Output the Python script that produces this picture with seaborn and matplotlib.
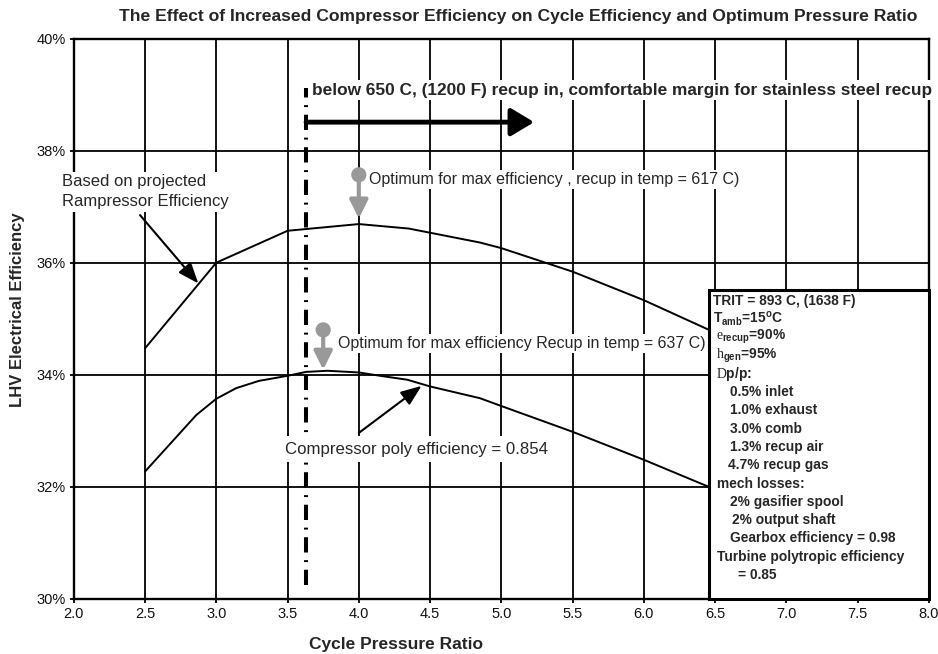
import matplotlib
matplotlib.use("Agg")
import matplotlib.pyplot as plt
from matplotlib.patches import Rectangle
import pandas as pd
import seaborn as sns

# -----------------------------------------
#  Data
# -----------------------------------------

# upper curve: projected Rampressor efficiency
RAMP_PR = [2.5, 3.0, 3.5, 4.0, 4.35, 4.85, 5.0, 5.5, 6.0, 6.5]
RAMP_EFF = [34.47, 36.0, 36.57, 36.69, 36.61, 36.36, 36.26, 35.84, 35.33, 34.75]

# lower curve: compressor poly efficiency = 0.854
POLY_PR = [2.5, 2.86, 3.0, 3.14, 3.3, 3.5, 3.63, 3.78, 4.0, 4.15, 4.34,
           4.5, 4.85, 5.0, 5.5, 6.0, 6.5]
POLY_EFF = [32.27, 33.28, 33.57, 33.76, 33.89, 33.98, 34.05, 34.07, 34.04,
            33.98, 33.91, 33.79, 33.58, 33.44, 32.98, 32.48, 31.95]

X_TICKS = [2.0, 2.5, 3.0, 3.5, 4.0, 4.5, 5.0, 5.5, 6.0, 6.5, 7.0, 7.5, 8.0]
X_LABELS = ["2.0", "2.5", "3.0", "3.5", "4.0", "4.5", "5.0", "5.5",
            "6.0", "6.5", "7.0", "7.5", "8.0"]
Y_TICKS = [30, 32, 34, 36, 38, 40]
Y_LABELS = ["30%", "32%", "34%", "36%", "38%", "40%"]

# 650 C recuperator inlet limit (dash-dot line) and its arrow
LIMIT_PR = 3.63
LIMIT_EFF = [30.24, 39.12]
LIMIT_ARROW_END = 5.23
LIMIT_ARROW_EFF = 38.51

# optimum markers: pressure ratio, marker top, arrow tip
OPT_PR = [4.0, 3.75]
OPT_TOP = [37.57, 34.80]
OPT_TIP = [36.79, 34.09]

BOX_LINES = [
    "TRIT = 893 C, (1638 F)",
    r"T$_{\mathbf{amb}}$=15$^{\mathbf{o}}$C",
    r"$\mathcal{e}_{\mathbf{recup}}$=90%",
    r"$\mathcal{h}_{\mathbf{gen}}$=95%",
    r"$\mathcal{D}$p/p:",
    "0.5% inlet",
    "1.0% exhaust",
    "3.0% comb",
    "1.3% recup air",
    "4.7% recup gas",
    "mech losses:",
    "2% gasifier spool",
    "2% output shaft",
    "Gearbox efficiency = 0.98",
    "Turbine polytropic efficiency",
    "= 0.85",
]
BOX_INDENT = [713, 713, 716, 716, 716, 730, 730, 730, 730, 728,
              717, 730, 732, 730, 717, 738]

# -----------------------------------------
#  Style
# -----------------------------------------

sns.set_theme(style="white")
plt.rcParams.update({
    "font.family": ["Liberation Sans", "DejaVu Sans"],
    "mathtext.fontset": "custom",
    "mathtext.rm": "Liberation Sans",
    "mathtext.bf": "Liberation Sans:bold",
    "mathtext.it": "Liberation Sans:italic",
    "mathtext.cal": "Liberation Serif",
    "lines.scale_dashes": False,
})

W, H = 938, 654


def px(x, y):
    return x / W, 1 - y / H


fig = plt.figure(figsize=(W / 100, H / 100), dpi=100)
ax = fig.add_axes([0.0786, 0.0846, 0.9118, 0.8562])

ramp = pd.DataFrame({"pr": RAMP_PR, "eff": RAMP_EFF})
poly = pd.DataFrame({"pr": POLY_PR, "eff": POLY_EFF})
sns.lineplot(data=ramp, x="pr", y="eff", estimator=None, sort=False,
             color="black", lw=1.4, ax=ax, zorder=3)
sns.lineplot(data=poly, x="pr", y="eff", estimator=None, sort=False,
             color="black", lw=1.4, ax=ax, zorder=3)

ax.set_xlim(2.0, 8.0)
ax.set_ylim(30, 40)
ax.set_xticks(X_TICKS)
ax.set_xticklabels(X_LABELS)
ax.set_yticks(Y_TICKS)
ax.set_yticklabels(Y_LABELS)
ax.set_xlabel("")
ax.set_ylabel("")
ax.grid(True, color="black", lw=1.3)
ax.set_axisbelow(True)
for s in ax.spines.values():
    s.set_color("black")
    s.set_linewidth(1.7)
ax.tick_params(axis="both", labelsize=10.5, length=3, width=1.3,
               color="black", direction="out", pad=3, labelcolor="#111111")
ax.tick_params(left=True, bottom=True)

# limit line
ax.plot([LIMIT_PR, LIMIT_PR], LIMIT_EFF, color="black", lw=2.9,
        ls=(0, (11, 5.5, 1.4, 5.5)), zorder=4)
ax.annotate("", xy=(LIMIT_ARROW_END, LIMIT_ARROW_EFF),
            xytext=(LIMIT_PR, LIMIT_ARROW_EFF),
            arrowprops=dict(arrowstyle="-|>,head_length=1.0,head_width=0.6",
                            color="black", lw=3.5, mutation_scale=14,
                            shrinkA=0, shrinkB=0), zorder=5)
ax.text(3.671, 39.08,
        "below 650 C, (1200 F) recup in, comfortable margin for stainless steel recup",
        fontsize=12.4, weight="bold", ha="left", va="center", zorder=5,
        bbox=dict(fc="white", ec="none", pad=2), clip_on=False)

# optimum lollipops
sns.scatterplot(x=OPT_PR, y=OPT_TOP, s=120, color="#999999",
                edgecolor="none", ax=ax, zorder=6)
for xo, top, tip in zip(OPT_PR, OPT_TOP, OPT_TIP):
    ax.annotate("", xy=(xo, tip), xytext=(xo, top),
                arrowprops=dict(arrowstyle="-|>,head_length=1.0,head_width=0.5",
                                color="#999999", lw=3, mutation_scale=11,
                                shrinkA=0, shrinkB=0), zorder=6)

label_box = dict(fc="white", ec="none", pad=1.5)
ax.text(4.071, 37.49, "Optimum for max efficiency , recup in temp = 617 C)",
        fontsize=11.5, ha="left", va="center", zorder=5, bbox=label_box)
ax.text(3.851, 34.56, "Optimum for max efficiency Recup in temp = 637 C)",
        fontsize=11.5, ha="left", va="center", zorder=5, bbox=label_box)

# curve labels
ax.text(1.916, 37.27, "Based on projected\nRampressor Efficiency",
        fontsize=12, ha="left", va="center", linespacing=1.35, zorder=5,
        bbox=dict(fc="white", ec="none", pad=2), clip_on=False)
ax.annotate("", xy=(2.874, 35.63), xytext=(2.465, 36.85),
            arrowprops=dict(arrowstyle="-|>,head_length=0.9,head_width=0.35",
                            color="black", lw=1.5, mutation_scale=14,
                            shrinkA=0, shrinkB=0), zorder=5)
ax.text(3.482, 32.67, "Compressor poly efficiency = 0.854",
        fontsize=12.1, ha="left", va="center", zorder=5,
        bbox=dict(fc="white", ec="none", pad=4))
ax.annotate("", xy=(4.44, 33.80), xytext=(4.0, 32.96),
            arrowprops=dict(arrowstyle="-|>,head_length=0.9,head_width=0.35",
                            color="black", lw=1.5, mutation_scale=14,
                            shrinkA=0, shrinkB=0), zorder=5)

# assumptions box
ax.add_patch(Rectangle((6.46, 30), 8.0 - 6.46, 35.52 - 30, fc="white",
                       ec="black", lw=2.2, zorder=7, clip_on=False))
for i, (line, xi) in enumerate(zip(BOX_LINES, BOX_INDENT)):
    yi = 300.5 + i * 18.3
    fig.text(*px(xi, yi), line, fontsize=9.9, weight="bold",
             ha="left", va="center", zorder=8)

# titles
fig.text(*px(518, 16),
         "The Effect of Increased Compressor Efficiency on Cycle Efficiency and Optimum Pressure Ratio",
         fontsize=12.6, weight="bold", ha="center", va="center")
fig.text(*px(396, 645), "Cycle Pressure Ratio", fontsize=12.5,
         weight="bold", ha="center", va="center")
fig.text(*px(18, 310), "LHV Electrical Efficiency", fontsize=12,
         weight="bold", ha="center", va="center", rotation=90)

fig.savefig("out.png", dpi=100, facecolor="white")
